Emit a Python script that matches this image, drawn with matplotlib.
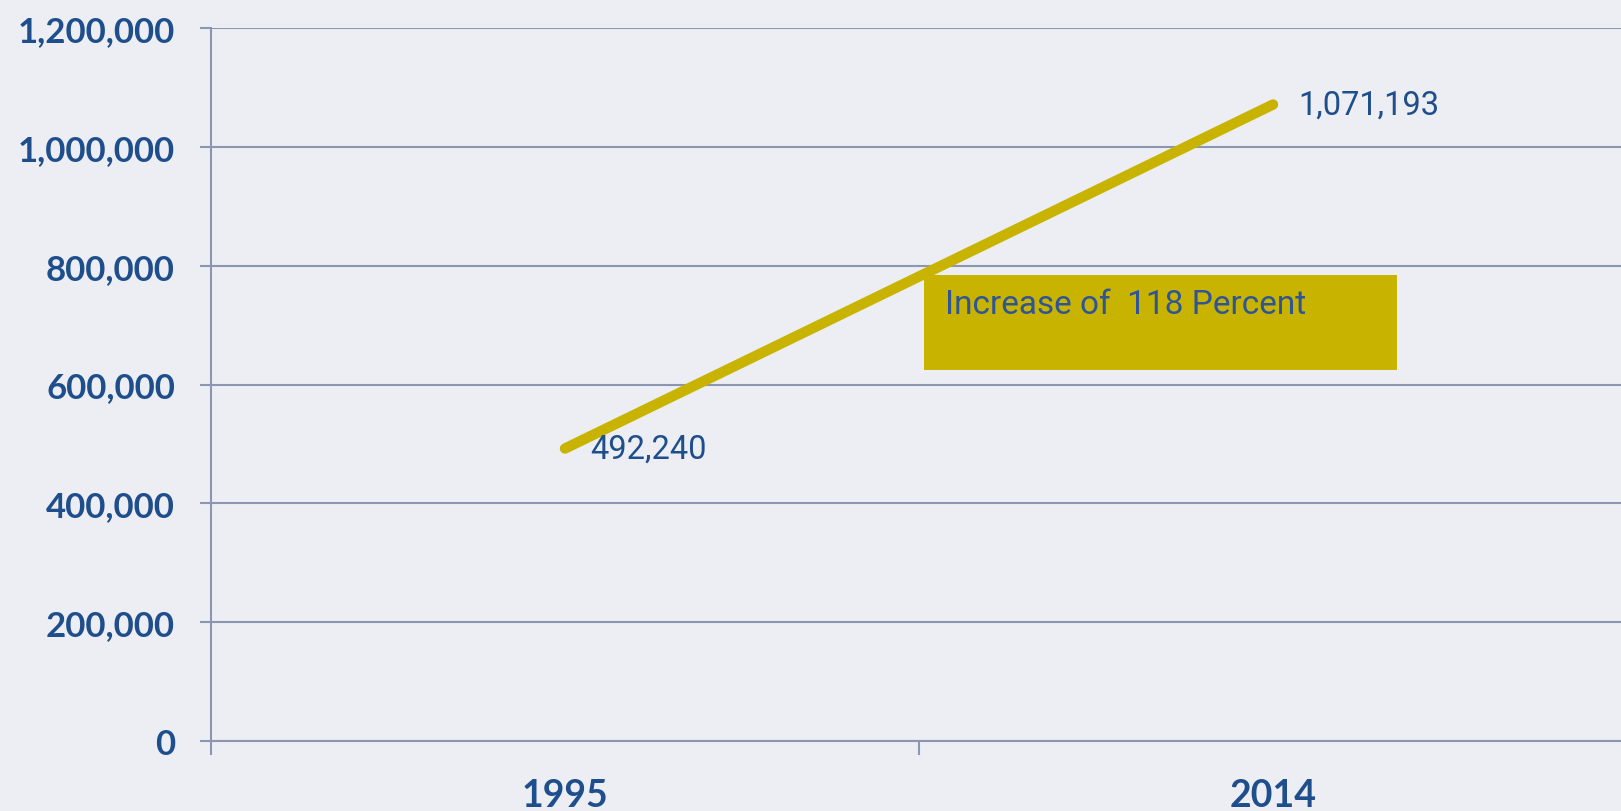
"""
Line chart 1995 vs 2014 with a highlight box, Excel-like styling.
"""

import matplotlib
matplotlib.use("Agg")
import matplotlib.pyplot as plt
from matplotlib.patches import Rectangle
from matplotlib.ticker import FuncFormatter, FixedLocator

years  = ["1995", "2014"]
values = [492240, 1071193]
labels = ["492,240", "1,071,193"]
y_ticks = [0, 200000, 400000, 600000, 800000, 1000000, 1200000]
note = "Increase of  118 Percent"

BG     = "#eceef3"
GRID   = "#8c96b0"
GOLD   = "#c8b400"
NAVY   = "#1f4e8c"

W, H = 1621, 812
fig = plt.figure(figsize=(W / 100, H / 100), dpi=100)
fig.patch.set_facecolor(BG)

# axes placed in pixels (right edge runs slightly past the figure, like the original crop)
x0, x1 = 211, 1627
ytop, ybot = 29, 742
ax = fig.add_axes([x0 / W, (H - ybot) / H, (x1 - x0) / W, (ybot - ytop) / H])
ax.set_facecolor("none")

x = list(range(len(years)))
ax.plot(x, values, color=GOLD, lw=7.5, solid_capstyle="round", zorder=3)

for xi, v, lab in zip(x, values, labels):
    ax.annotate(lab, (xi, v), xytext=(18, 0), textcoords="offset points",
                ha="left", va="center", fontsize=23.5, color=NAVY,
                family="Roboto", zorder=4)

ax.set_xlim(-0.5, 1.5)
ax.set_ylim(0, 1200000)

# y axis
ax.yaxis.set_major_locator(FixedLocator(y_ticks))
ax.yaxis.set_major_formatter(FuncFormatter(lambda v, p: f"{int(v):,}"))
ax.grid(axis="y", color=GRID, lw=1.5, zorder=1)
ax.tick_params(axis="y", length=8, width=1.5, color=GRID, pad=18,
               labelsize=25, labelcolor=NAVY)
for t in ax.get_yticklabels():
    t.set_family("Lato")
    t.set_fontweight("bold")

# x axis: labels at category centres, ticks at category boundaries
ax.set_xticks(x)
ax.set_xticklabels(years)
ax.set_xticks([-0.5, 0.5, 1.5], minor=True)
ax.tick_params(axis="x", which="major", length=0, pad=27,
               labelsize=27, labelcolor=NAVY)
ax.tick_params(axis="x", which="minor", length=10, width=1.5, color=GRID)
for t in ax.get_xticklabels():
    t.set_family("Lato")
    t.set_fontweight("bold")

for side in ["top", "right"]:
    ax.spines[side].set_visible(False)
for side in ["left", "bottom"]:
    ax.spines[side].set_color(GRID)
    ax.spines[side].set_linewidth(1.5)

# highlight box (figure pixels)
bx0, by0, bx1, by1 = 924, 276, 1397, 371
fig.patches.append(Rectangle((bx0 / W, (H - by1) / H), (bx1 - bx0) / W, (by1 - by0) / H,
                             transform=fig.transFigure, facecolor=GOLD,
                             edgecolor="none", zorder=5))
fig.text(945 / W, (H - 305) / H, note, ha="left", va="center", fontsize=24,
         color="#2f5597", family="Roboto", zorder=6)

fig.savefig("out.png", dpi=100, facecolor=BG)
